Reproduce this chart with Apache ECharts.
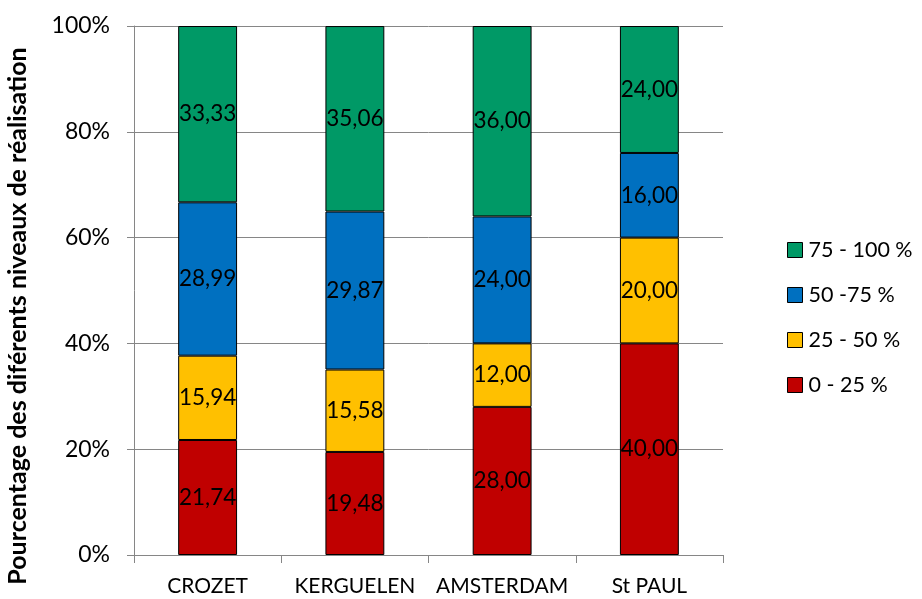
<!DOCTYPE html>
<html>
<head>
<meta charset="utf-8">
<script src="https://cdn.jsdelivr.net/npm/echarts@6/dist/echarts.min.js"></script>
<style>
  html, body { margin: 0; padding: 0; background: #fff; }
  #chart { width: 922px; height: 599px; }
</style>
</head>
<body>
<div id="chart"></div>
<script>
// Share of each achievement level per district (percent)
const categories = ['CROZET', 'KERGUELEN', 'AMSTERDAM', 'St PAUL'];
const level0_25   = [21.74, 19.48, 28.00, 40.00];
const level25_50  = [15.94, 15.58, 12.00, 20.00];
const level50_75  = [28.99, 29.87, 24.00, 16.00];
const level75_100 = [33.33, 35.06, 36.00, 24.00];
const seriesNames = ['0 - 25 %', '25 - 50 %', '50 -75 %', '75 - 100 %'];
const yTicks = [0, 20, 40, 60, 80, 100];

const FONT = 'Lato, "Open Sans", sans-serif';
const colors = ['#C00000', '#FFC000', '#0070C0', '#009966'];
const seriesData = [level0_25, level25_50, level50_75, level75_100];

const chart = echarts.init(document.getElementById('chart'), null, { renderer: 'canvas' });

const series = seriesData.map((data, i) => ({
  name: seriesNames[i],
  type: 'bar',
  stack: 'total',
  barWidth: '40%',
  data: data,
  itemStyle: { color: colors[i], borderColor: '#000', borderWidth: 1 },
  label: {
    show: true,
    position: 'inside',
    color: '#000',
    fontFamily: FONT,
    fontSize: 22.5,
    formatter: p => p.value.toFixed(2).replace('.', ',')
  }
}));

chart.setOption({
  animation: false,
  color: colors,
  grid: { left: 134, right: 199, top: 26, bottom: 44, containLabel: false },
  legend: {
    orient: 'vertical',
    left: 782,
    top: 234,
    icon: 'rect',
    itemWidth: 15,
    itemHeight: 15,
    itemGap: 23,
    data: seriesNames.slice().reverse(),
    textStyle: { fontFamily: FONT, fontSize: 21.5, color: '#000', padding: [0, 0, 0, 1] },
    itemStyle: { borderColor: '#000', borderWidth: 1 }
  },
  xAxis: {
    type: 'category',
    data: categories,
    axisLine: { lineStyle: { color: '#868686', width: 1 } },
    axisTick: { show: true, alignWithLabel: false, length: 8, lineStyle: { color: '#868686' } },
    axisLabel: { color: '#000', fontFamily: FONT, fontSize: 21, margin: 21, interval: 0 }
  },
  yAxis: {
    type: 'value',
    min: 0,
    max: 100,
    interval: 20,
    axisLine: { show: true, lineStyle: { color: '#868686', width: 1 } },
    axisTick: { show: true, length: 7, lineStyle: { color: '#868686' } },
    splitLine: { show: true, lineStyle: { color: '#868686', width: 1 } },
    axisLabel: {
      color: '#000', fontFamily: FONT, fontSize: 23, margin: 24,
      formatter: v => yTicks.includes(v) ? v + '%' : ''
    }
  },
  graphic: [{
    type: 'text',
    x: 18,
    y: 316,
    rotation: Math.PI / 2,
    style: {
      text: 'Pourcentage des diférents niveaux de réalisation',
      fontFamily: FONT,
      fontWeight: 'bold',
      fontSize: 25,
      fill: '#000',
      textAlign: 'center',
      textVerticalAlign: 'middle'
    }
  }],
  series: series
});
</script>
</body>
</html>
